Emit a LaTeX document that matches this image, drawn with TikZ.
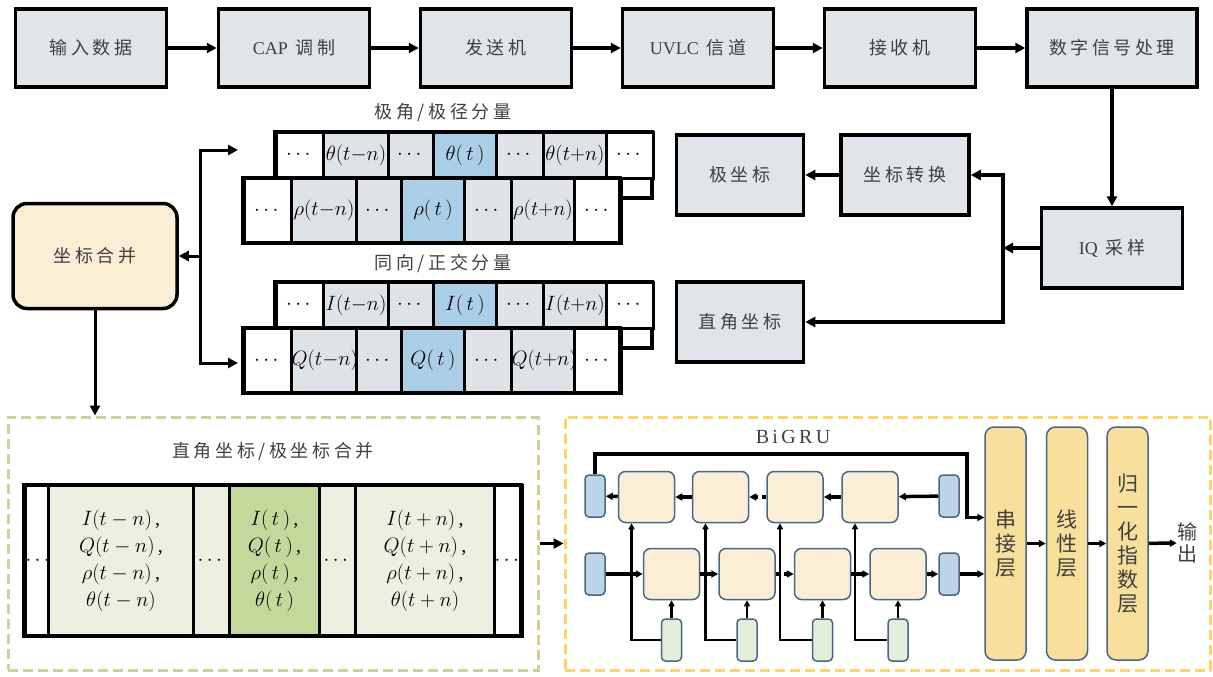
\documentclass[tikz,border=0pt]{standalone}
\usepackage{fontspec}
\usepackage{amsmath}
\usetikzlibrary{arrows.meta,positioning}

\setmainfont{Liberation Serif}
\newfontfamily\cjk[LetterSpace=20]{Noto Sans CJK SC}
\newfontfamily\cjkv{Noto Sans CJK SC}
\newcommand\latn[1]{{\rmfamily #1}}

\definecolor{boxgray}{HTML}{E1E5EA}
\definecolor{cellgray}{HTML}{DFE3E8}
\definecolor{cellblue}{HTML}{ABCFE7}
\definecolor{mergefill}{HTML}{FAEFD5}
\definecolor{lgreen}{HTML}{EBF0E1}
\definecolor{cgreen}{HTML}{C4D89C}
\definecolor{dashgreen}{HTML}{C3D99B}
\definecolor{dashyellow}{HTML}{FBD56B}
\definecolor{grufill}{HTML}{FAEFD6}
\definecolor{gruline}{HTML}{4B6584}
\definecolor{hidblue}{HTML}{BDD3E8}
\definecolor{ingreen}{HTML}{E4EEDD}
\definecolor{layerfill}{HTML}{F8E09C}
\definecolor{textgray}{HTML}{404040}

\begin{document}
\begin{tikzpicture}[
    x=1pt, y=-1pt,
    line join=miter,
    every node/.style={text=textgray, inner sep=0pt},
    blk/.style={draw=black, line width=3.5pt, fill=boxgray,
        minimum width=151pt, minimum height=78pt, font=\cjk\fontsize{18}{20}\selectfont},
    link/.style={line width=3.5pt, -{Triangle[length=10pt,width=10pt]}},
    glink/.style={line width=3.5pt, -{Triangle[length=7pt,width=7pt]}},
    slink/.style={line width=2.5pt, -{Triangle[length=6pt,width=6pt]}},
    seqcell/.style={draw=black, line width=3pt, text=black, font=\fontsize{20}{24}\selectfont},
    bigcell/.style={seqcell, minimum height=151pt, anchor=west, align=center,
        font=\fontsize{20}{27}\selectfont},
    title/.style={font=\cjk\fontsize{18}{20}\selectfont},
    dashbox/.style={line width=3pt, dash pattern=on 10pt off 5pt},
    gru/.style={draw=gruline, line width=1.5pt, fill=grufill, rounded corners=7pt,
        minimum width=56pt, minimum height=51pt},
    hid/.style={draw=gruline, line width=1.5pt, fill=hidblue, rounded corners=4pt,
        minimum width=20pt, minimum height=42pt},
    xin/.style={hid, fill=ingreen},
    layer/.style={draw=gruline, line width=1.5pt, fill=layerfill, rounded corners=9pt,
        minimum width=41pt, minimum height=233pt, align=center,
        font=\cjkv\fontsize{21}{24}\selectfont}
    ]
    \useasboundingbox (0,0) rectangle (1213,677);
    
    % Transmission chain
    \node[blk] (inp) at (91,48) {输入数据};
    \node[blk] (cap) at (294,48) {\latn{CAP}\ 调制};
    \node[blk] (tx) at (496,48) {发送机};
    \node[blk] (ch) at (698,48) {\latn{UVLC}\ 信道};
    \node[blk] (rx) at (900,48) {接收机};
    \node[blk, minimum width=170pt] (dsp) at (1112,48) {数字信号处理};
    \draw[link] (inp) -- (cap);
    \draw[link] (cap) -- (tx);
    \draw[link] (tx) -- (ch);
    \draw[link] (ch) -- (rx);
    \draw[link] (rx) -- (dsp);
    
    % Sampling and conversion
    \node[blk, minimum width=141pt, minimum height=80pt] (iq) at (1112,248) {\latn{IQ}\ 采样};
    \node[blk, minimum width=128pt, minimum height=80pt] (conv) at (905,175) {坐标转换};
    \node[blk, minimum width=127pt, minimum height=80pt] (polar) at (740,175) {极坐标};
    \node[blk, minimum width=127pt, minimum height=80pt] (rect) at (740,322) {直角坐标};
    \coordinate (jr) at (1003,248);
    \draw[link] (dsp) -- (iq);
    \draw[link] (iq) -- (jr);
    \draw[link] (jr) |- (conv.east);
    \draw[link] (jr) |- (rect.east);
    \draw[link] (conv) -- (polar);
    
    % Component sequences
    \node[title] (ptitle) at (443,113) {极角/极径分量};
    \node[title] (qtitle) at (443,263) {同向/正交分量};
    \foreach \dy/\ua/\ub/\nm in {0/\theta/\rho/p, 150/I/Q/q} {
        \draw[line width=3.5pt] (275,132+\dy) rectangle (652,198+\dy);
        \foreach \i/\xl/\w/\fc/\lb in {1/275/47/white/\cdots, 2/322/65/cellgray/\ua(t{-}n),
            3/387/45/cellgray/\cdots, 4/432/63/cellblue/\ua(\,t\,), 5/495/47/cellgray/\cdots,
            6/542/63/cellgray/\ua(t{+}n), 7/605/47/white/\cdots}
            \node[seqcell, fill=\fc, minimum width=\w pt, minimum height=46pt, anchor=west]
                (\nm a\i) at (\xl,155+\dy) {$\lb$};
        \foreach \i/\xl/\w/\fc/\lb in {1/243/47/white/\cdots, 2/290/65/cellgray/\ub(t{-}n),
            3/355/45/cellgray/\cdots, 4/400/63/cellblue/\ub(\,t\,), 5/463/47/cellgray/\cdots,
            6/510/63/cellgray/\ub(t{+}n), 7/573/47/white/\cdots}
            \node[seqcell, fill=\fc, minimum width=\w pt, minimum height=65pt, anchor=west]
                (\nm b\i) at (\xl,210.5+\dy) {$\lb$};
        \draw[line width=3.5pt] (243,178+\dy) rectangle (620,243+\dy);
    }
    
    % Merge
    \node[draw=black, line width=3.5pt, fill=mergefill, rounded corners=14pt,
        minimum width=164pt, minimum height=105pt, font=\cjk\fontsize{18}{20}\selectfont]
        (merge) at (95,256) {坐标合并};
    \coordinate (jl) at (200,256);
    \coordinate (pin) at (238,150);
    \coordinate (qin) at (238,363);
    \draw[link, line width=3pt] (jl) -- (merge);
    \draw[link, line width=3pt] (jl) |- (pin);
    \draw[link, line width=3pt] (jl) |- (qin);
    
    % Frames
    \node[dashbox, draw=dashgreen, minimum width=530pt, minimum height=253pt] (fuse) at (273,543.5) {};
    \node[dashbox, draw=dashyellow, minimum width=645pt, minimum height=253pt] (bigru) at (887.5,543.5) {};
    \draw[link, line width=3pt] (merge) -- (merge |- fuse.north);
    \draw[link] (fuse) -- (bigru);
    
    % Merged sequence
    \node[title] (ftitle) at (273,452) {直角坐标/极坐标合并};
    \node[seqcell, fill=white, minimum width=23pt, minimum height=151pt, anchor=west] (m1) at (24,560.5) {$\cdots$};
    \node[bigcell, fill=lgreen, minimum width=145pt] (m2) at (47,560.5)
        {$I(t-n)$\,,\\$Q(t-n)$\,,\\$\rho(t-n)$\,,\\$\theta(t-n)$};
    \node[seqcell, fill=lgreen, minimum width=36pt, minimum height=151pt, anchor=west] (m3) at (192,560.5) {$\cdots$};
    \node[bigcell, fill=cgreen, minimum width=90pt] (m4) at (228,560.5)
        {$I(\,t\,)$\,,\\$Q(\,t\,)$\,,\\$\rho(\,t\,)$\,,\\$\theta(\,t\,)$};
    \node[seqcell, fill=lgreen, minimum width=36pt, minimum height=151pt, anchor=west] (m5) at (318,560.5) {$\cdots$};
    \node[bigcell, fill=lgreen, minimum width=139pt] (m6) at (354,560.5)
        {$I(t+n)$\,,\\$Q(t+n)$\,,\\$\rho(t+n)$\,,\\$\theta(t+n)$};
    \node[seqcell, fill=white, minimum width=28pt, minimum height=151pt, anchor=west] (m7) at (493,560.5) {$\cdots$};
    \draw[line width=3.5pt] (24,485) rectangle (521,636);
    
    % BiGRU
    \node[font=\fontsize{20}{22}\selectfont] (bititle) at (793,437) {B\,i\,G\,R\,U};
    \foreach \i/\xb/\xf in {1/646.5/671.5, 2/720.5/747, 3/795/822.5, 4/870/898} {
        \node[gru] (b\i) at (\xb,497) {};
        \node[gru] (f\i) at (\xf,574) {};
        \node[xin] (x\i) at (\xf,640) {};
    }
    \node[hid] (bl) at (595,496) {};
    \node[hid] (br) at (949,496) {};
    \node[hid] (fl) at (595,574) {};
    \node[hid] (fr) at (949,574) {};
    
    \node[layer] (cat) at (1005.5,543.5) {串\\接\\层};
    \node[layer] (lin) at (1067,543.5) {线\\性\\层};
    \node[layer] (soft) at (1127.5,543.5) {归\\一\\化\\指\\数\\层};
    \node[align=center, font=\cjkv\fontsize{20}{22}\selectfont] (out) at (1187,543) {输\\出};
    
    \draw[glink] (fl) -- (f1);
    \draw[glink] (f1) -- (f2);
    \draw[glink, dash pattern=on 4pt off 4pt] (f2) -- (f3);
    \draw[glink] (f3) -- (f4);
    \draw[glink] (f4) -- (fr);
    \draw[glink] (fr) -- (fr -| cat.west);
    \draw[glink] (br) -- (b4);
    \draw[glink] (b4) -- (b3);
    \draw[glink, dash pattern=on 4pt off 4pt] (b3) -- (b2);
    \draw[glink] (b2) -- (b1);
    \draw[glink] (b1) -- (bl);
    \coordinate (bgtop) at (967,454);
    \draw[glink] (bl.north) |- (bgtop) |- ([yshift=26pt]cat.west);
    \foreach \i in {1,...,4} {
        \draw[slink] (x\i) -- (f\i);
        \draw[slink] (x\i.west) -| ([xshift=-15pt]b\i.south);
    }
    \draw[glink] (cat) -- (lin);
    \draw[glink] (lin) -- (soft);
    \draw[glink] (soft) -- (out);
    
\end{tikzpicture}
\end{document}
